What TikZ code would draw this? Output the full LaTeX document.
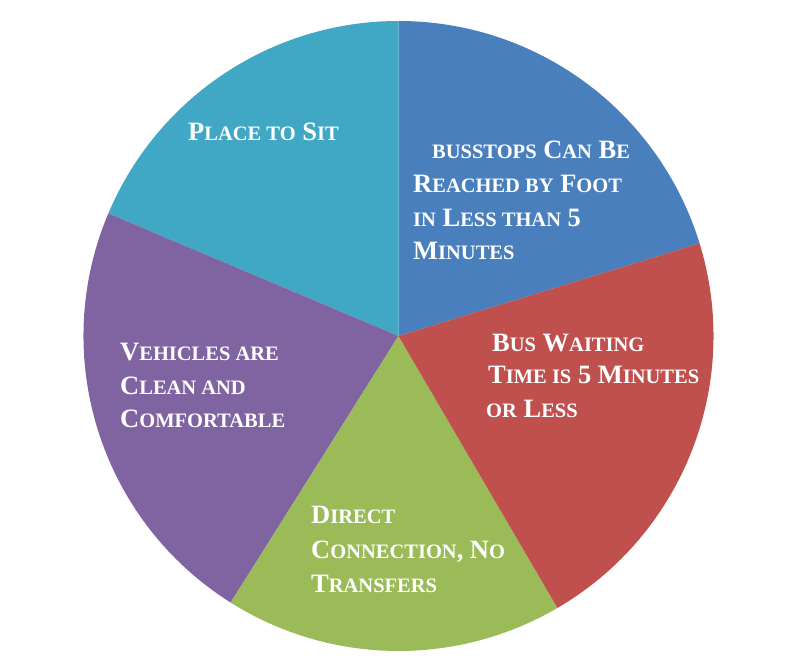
\documentclass[tikz,border=0pt]{standalone}
\usepackage{fontspec}
\setmainfont{Liberation Serif}
\definecolor{sblue}{HTML}{4A7FBE}
\definecolor{sred}{HTML}{C0504D}
\definecolor{sgreen}{HTML}{9BBB59}
\definecolor{spurple}{HTML}{8064A2}
\definecolor{steal}{HTML}{40A8C4}
\newcommand\sm[1]{{\fontsize{20.5}{24}\selectfont #1}}
\begin{document}
\begin{tikzpicture}[x=1pt,y=1pt,
  lbl/.style={anchor=base west,inner sep=0pt,text=white,font=\bfseries\fontsize{26.5}{32}\selectfont}]
\useasboundingbox (0,0) rectangle (795,667);
\coordinate (c) at (398.5,331);
\def\R{315}
\fill[sblue] (c) -- ++(17.1:\R) arc[start angle=17.1,end angle=90,radius=\R] -- cycle;
\fill[steal] (c) -- ++(90:\R) arc[start angle=90,end angle=157.1,radius=\R] -- cycle;
\fill[spurple] (c) -- ++(157.1:\R) arc[start angle=157.1,end angle=237.8,radius=\R] -- cycle;
\fill[sgreen] (c) -- ++(237.8:\R) arc[start angle=237.8,end angle=300.3,radius=\R] -- cycle;
\fill[sred] (c) -- ++(300.3:\R) arc[start angle=300.3,end angle=377.1,radius=\R] -- cycle;
% teal
\node[lbl] (t1) at (188,526) {P\sm{LACE TO} S\sm{IT}};
% blue
\node[lbl] (b1) at (432,508) {\sm{BUSSTOPS} C\sm{AN} B\sm{E}};
\node[lbl] (b2) at (413,474) {R\sm{EACHED BY} F\sm{OOT}};
\node[lbl] (b3) at (413,440) {\sm{IN} L\sm{ESS THAN} 5};
\node[lbl] (b4) at (413,407) {M\sm{INUTES}};
% purple
\node[lbl] (p1) at (120,306) {V\sm{EHICLES ARE}};
\node[lbl] (p2) at (120,272) {C\sm{LEAN AND}};
\node[lbl] (p3) at (120,239) {C\sm{OMFORTABLE}};
% red
\node[lbl] (r1) at (492,315) {B\sm{US} W\sm{AITING}};
\node[lbl] (r2) at (488,283) {T\sm{IME IS} 5 M\sm{INUTES}};
\node[lbl] (r3) at (486,249) {\sm{OR} L\sm{ESS}};
% green
\node[lbl] (g1) at (311,143) {D\sm{IRECT}};
\node[lbl] (g2) at (311,109) {C\sm{ONNECTION}, N\sm{O}};
\node[lbl] (g3) at (311,75) {T\sm{RANSFERS}};
\end{tikzpicture}
\end{document}
